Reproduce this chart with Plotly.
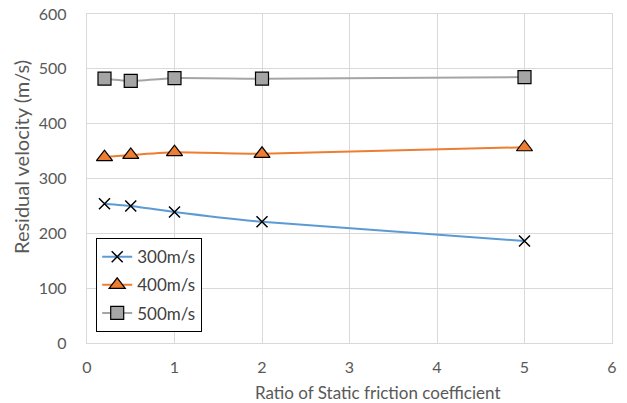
import plotly.graph_objects as go

ratio = [0.2, 0.5, 1, 2, 5]
v300 = [254, 250, 239, 221, 186]
v400 = [339, 343, 348, 345, 357]
v500 = [482, 478, 483, 482, 485]
x_ticks = [0, 1, 2, 3, 4, 5, 6]
y_ticks = [0, 100, 200, 300, 400, 500, 600]

FONT = "Lato, Open Sans, sans-serif"
W, H = 627, 403
L, R, T, B = 87, 15, 14, 60

fig = go.Figure()
fig.add_trace(go.Scatter(x=ratio, y=v300, name="300m/s", legendgroup="a", mode="lines+markers",
    line=dict(color="#5B9BD5", width=2, shape="spline", smoothing=0.4),
    marker=dict(symbol="x-thin", size=11, line=dict(color="black", width=1.5), color="black")))
fig.add_trace(go.Scatter(x=ratio, y=v400, name="400m/s", legendgroup="b", mode="lines+markers",
    line=dict(color="#ED7D31", width=2, shape="spline", smoothing=0.4),
    marker=dict(symbol="triangle-up", size=14, color="#ED7D31", line=dict(color="black", width=1.2))))
fig.add_trace(go.Scatter(x=ratio, y=v500, name="500m/s", legendgroup="c", mode="lines+markers",
    line=dict(color="#A5A5A5", width=2, shape="spline", smoothing=0.4),
    marker=dict(symbol="square", size=13, color="#A5A5A5", line=dict(color="black", width=1.2))))

ph = H - T - B
pw = W - L - R
fig.update_layout(
    width=W, height=H,
    margin=dict(l=L, r=R, t=T, b=B, autoexpand=False),
    paper_bgcolor="white", plot_bgcolor="white",
    font=dict(family=FONT, size=16, color="#595959"),
    legend=dict(x=(96 - L) / pw, y=(H - B - 238) / ph, xanchor="left", yanchor="top",
                bordercolor="black", borderwidth=1.2, bgcolor="white",
                font=dict(size=17, color="#404040"), tracegroupgap=3, itemwidth=30),
    showlegend=True,
    annotations=[
        dict(text="Ratio of Static friction coefficient", xref="paper", yref="paper",
             x=(378 - L) / pw, y=(H - B - 392) / ph, xanchor="center", yanchor="middle",
             showarrow=False, font=dict(size=17, color="#595959")),
        dict(text="Residual velocity (m/s)", xref="paper", yref="paper", textangle=-90,
             x=(21 - L) / pw, y=(H - B - 157) / ph, xanchor="center", yanchor="middle",
             showarrow=False, font=dict(size=20, color="#595959")),
    ],
)
fig.update_xaxes(range=[0, 6], tickvals=x_ticks, showgrid=True, gridcolor="#D9D9D9", gridwidth=1.3,
    showline=True, linecolor="#D9D9D9", linewidth=1.3, mirror=True, zeroline=False,
    ticks="outside", ticklen=10, tickcolor="rgba(0,0,0,0)", automargin=False,
    tickfont=dict(size=16, color="#595959"))
fig.update_yaxes(range=[0, 600], tickvals=y_ticks, showgrid=True, gridcolor="#D9D9D9", gridwidth=1.3,
    showline=True, linecolor="#D9D9D9", linewidth=1.3, mirror=True, zeroline=False,
    ticks="outside", ticklen=16, tickcolor="rgba(0,0,0,0)", automargin=False,
    tickfont=dict(size=16, color="#595959"))

fig.write_html("out.html", config={"displayModeBar": False},
               post_script="document.body.style.margin='0px';")
